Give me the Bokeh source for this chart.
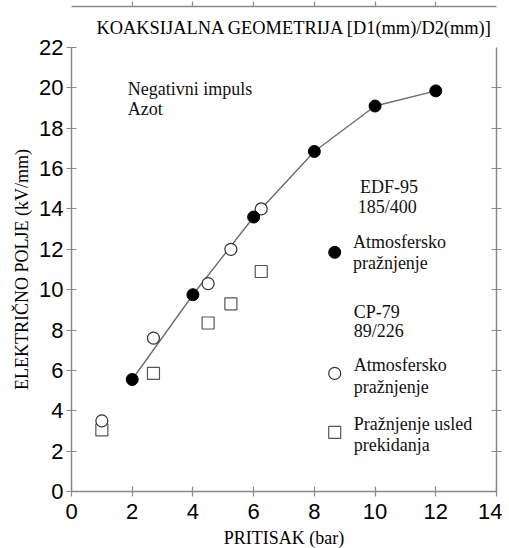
from bokeh.plotting import figure
from bokeh.models import LinearAxis, Range1d, FixedTicker, Title
from bokeh.core.properties import value
from bokeh.embed import file_html
from bokeh.resources import INLINE

# ---- data ----
edf_pressure = [2, 4, 6, 8, 10, 12]
edf_field = [5.55, 9.75, 13.6, 16.85, 19.1, 19.85]

cp_atm_pressure = [1.0, 2.7, 4.5, 5.25, 6.25]
cp_atm_field = [3.5, 7.6, 10.3, 12.0, 14.0]

cp_break_pressure = [1.0, 2.7, 4.5, 5.25, 6.25]
cp_break_field = [3.05, 5.85, 8.35, 9.3, 10.9]

x_ticks = [0, 2, 4, 6, 8, 10, 12, 14]
y_ticks = [0, 2, 4, 6, 8, 10, 12, 14, 16, 18, 20, 22]

title_text = "KOAKSIJALNA GEOMETRIJA [D1(mm)/D2(mm)]"
x_label = "PRITISAK (bar)"
y_label = "ELEKTRIČNO POLJE (kV/mm)"

note_lines = ["Negativni impuls", "Azot"]
legend_lines = ["EDF-95", "185/400", "Atmosfersko", "pražnjenje",
                "CP-79", "89/226", "Atmosfersko", "pražnjenje",
                "Pražnjenje usled", "prekidanja"]

SERIF = "Liberation Serif"
SANS = "Liberation Sans"
AX = "#8a8a8a"

p = figure(frame_width=425, frame_height=444,
           x_range=Range1d(0, 14), y_range=Range1d(0, 22),
           output_backend="svg", toolbar_location=None,
           x_axis_location=None, y_axis_location=None,
           min_border_left=71, min_border_right=6, min_border_top=47, min_border_bottom=0)
p.grid.visible = False
p.outline_line_color = None
p.background_fill_color = "white"
p.border_fill_color = "white"

t = Title(text=title_text, align="left", offset=25,
          text_font=SERIF, text_font_size="18.4px", text_font_style="normal",
          text_color="black", standoff=19)
p.add_layout(t, "above")


def mk_axis(ticks, loc):
    ax = LinearAxis(ticker=FixedTicker(ticks=ticks))
    ax.axis_line_color = AX
    ax.axis_line_width = 1.5
    ax.major_tick_line_color = AX
    ax.major_tick_line_width = 1.2
    ax.minor_tick_line_color = None
    ax.major_label_text_font = SANS
    ax.major_label_text_font_size = "22px"
    ax.major_label_text_color = "black"
    ax.axis_label_text_font = SERIF
    ax.axis_label_text_font_size = "18px"
    ax.axis_label_text_font_style = "normal"
    ax.axis_label_text_color = "black"
    p.add_layout(ax, loc)
    return ax


bottom = mk_axis(x_ticks, "below")
bottom.major_tick_in = 5
bottom.major_tick_out = 5
bottom.major_label_standoff = 7
bottom.axis_label = x_label
bottom.axis_label_standoff = 6

left = mk_axis(y_ticks, "left")
left.major_tick_in = 5
left.major_tick_out = 5
left.major_label_standoff = 3
left.axis_label = y_label
left.axis_label_standoff = 4

top = mk_axis(x_ticks[1:-1], "above")
top.major_tick_in = 0
top.major_tick_out = 5
top.major_label_overrides = {tk: "" for tk in x_ticks}
top.major_label_text_font_size = "10px"
top.major_label_standoff = 0

right = mk_axis(y_ticks[1:-1], "right")
right.major_tick_in = 5
right.major_tick_out = 5
right.major_label_overrides = {tk: "" for tk in y_ticks}
right.major_label_text_font_size = "10px"
right.major_label_standoff = 0

# fitted line through EDF-95 points
p.line(edf_pressure, edf_field, line_color="#6e6e6e", line_width=1.4)

# markers
p.scatter(cp_break_pressure, cp_break_field, marker="square", size=12,
          fill_color="white", line_color="#555555", line_width=1.2)
p.scatter(cp_atm_pressure, cp_atm_field, marker="circle", size=12,
          fill_color="white", line_color="#333333", line_width=1.2)
p.scatter(edf_pressure, edf_field, marker="circle", size=12,
          fill_color="black", line_color="black")

# annotation layout (positions only)
note_x = [1.85, 1.85]
note_y = [19.95, 18.97]
p.text(note_x, note_y, text=note_lines, text_font=value(SERIF), text_font_size="18px",
       text_baseline="middle", text_align="left", text_color="#111111")

leg_x = [9.5, 9.43, 9.27, 9.27, 9.3, 9.3, 9.3, 9.3, 9.3, 9.3]
leg_y = [15.1, 14.1, 12.38, 11.34, 8.9, 7.95, 6.28, 5.19, 3.36, 2.32]
p.text(leg_x, leg_y, text=legend_lines, text_font=value(SERIF), text_font_size="18px",
       text_baseline="middle", text_align="left", text_color="#111111")

p.scatter([8.67], [11.85], marker="circle", size=12, fill_color="black", line_color="black")
p.scatter([8.67], [5.85], marker="circle", size=12, fill_color="white",
          line_color="#333333", line_width=1.2)
p.scatter([8.67], [2.93], marker="square", size=12, fill_color="white",
          line_color="#555555", line_width=1.2)

open("out.html", "w").write(file_html(p, INLINE))
